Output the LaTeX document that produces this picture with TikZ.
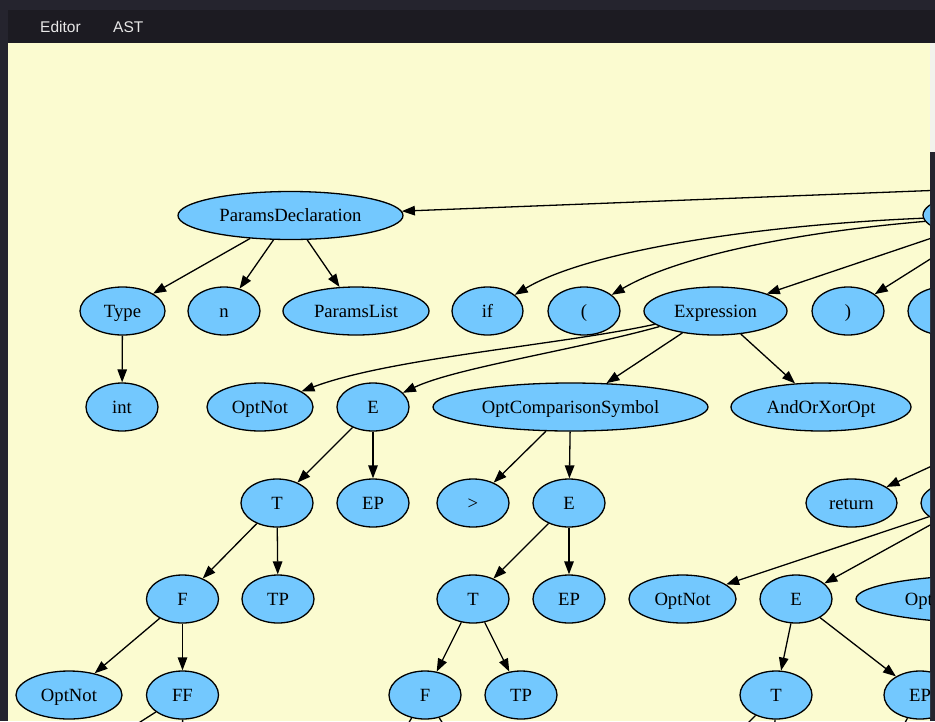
\documentclass[tikz,border=0pt]{standalone}
\usepackage{fontspec}
\setmainfont{Liberation Serif}
\newfontfamily\uifont{Liberation Sans}
\usetikzlibrary{shapes.geometric,arrows.meta}
\definecolor{outerbg}{RGB}{37,36,46}
\definecolor{tabbar}{RGB}{28,27,34}
\definecolor{canvasbg}{RGB}{251,251,208}
\definecolor{nodefill}{RGB}{115,200,254}
\definecolor{thumbcol}{RGB}{242,242,236}
\definecolor{tabtext}{RGB}{232,232,232}
\begin{document}
\begin{tikzpicture}[x=1pt,y=-1pt,
  astnode/.style={ellipse, draw=black, line width=1.3pt, fill=nodefill, inner sep=0pt,
    minimum height=48pt, minimum width=72pt, text height=16pt, text depth=3.4pt,
    font=\fontsize{18.67}{20}\selectfont},
  edge/.style={-{Triangle[length=13pt,width=9.5pt]}, line width=1.3pt},
  tablabel/.style={text=tabtext, font=\uifont\fontsize{15.5}{18}\selectfont, inner sep=0pt, anchor=base west}]
\useasboundingbox (0,0) rectangle (935,721);
% window chrome
\fill[outerbg] (0,0) rectangle (935,721);
\fill[tabbar] (8,10) rectangle (935,43);
\fill[canvasbg] (8,43) rectangle (930,721);
\fill[outerbg] (930,43) rectangle (935,721);
\fill[thumbcol] (930,43) rectangle (935,152);
\node[tablabel] (tabeditor) at (40,32) {Editor};
\node[tablabel] (tabast) at (113,32) {AST};
\begin{scope}
\clip (8,43) rectangle (930,721);
% off-canvas anchors
\coordinate (pdpar) at (1200,180);
\coordinate (par407) at (1060,407);
% row 215
\node[astnode, minimum width=225pt] (pd) at (290.5,215.5) {ParamsDeclaration};
\node[astnode, minimum width=154pt] (root) at (1000,215) {};
% row 311
\node[astnode, minimum width=85pt] (type) at (122.5,311) {Type};
\node[astnode] (n) at (224,311) {n};
\node[astnode, minimum width=146pt] (plist) at (356,311) {ParamsList};
\node[astnode, minimum width=71pt] (if) at (487.5,311) {if};
\node[astnode] (lp) at (584,311) {(};
\node[astnode, minimum width=143pt] (expr) at (715.5,311) {Expression};
\node[astnode] (rp) at (848,311) {)};
\node[astnode] (rb) at (944,311) {};
% row 407
\node[astnode] (int) at (122,407) {int};
\node[astnode, minimum width=106pt] (onA) at (260,407) {OptNot};
\node[astnode] (eA) at (373,407) {E};
\node[astnode, minimum width=275pt] (ocsA) at (570.5,407) {OptComparisonSymbol};
\node[astnode, minimum width=180pt] (aox) at (821,407) {AndOrXorOpt};
% row 503
\node[astnode] (tA) at (277,503) {T};
\node[astnode] (epA) at (373,503) {EP};
\node[astnode] (gt) at (473,503) {>};
\node[astnode] (eB) at (569,503) {E};
\node[astnode, minimum width=91pt] (ret) at (851.5,503) {return};
\node[astnode, minimum width=98pt] (rr) at (970,503) {};
% row 599
\node[astnode] (fA) at (182.5,599) {F};
\node[astnode] (tpA) at (278,599) {TP};
\node[astnode] (tB) at (473,599) {T};
\node[astnode] (epB) at (569,599) {EP};
\node[astnode, minimum width=107pt] (onB) at (682.5,599) {OptNot};
\node[astnode] (eC) at (796,599) {E};
\node[astnode, minimum width=275pt] (ocsB) at (993.5,599) {OptComparisonSymbol};
% row 695
\node[astnode, minimum width=106pt] (onC) at (69,695) {OptNot};
\node[astnode] (ff) at (182.5,695) {FF};
\node[astnode] (fB) at (425,695) {F};
\node[astnode] (tpB) at (521,695) {TP};
\node[astnode] (tC) at (776,695) {T};
\node[astnode] (epC) at (920,695) {EP};
% children below the view
\coordinate (ffc1) at (32,791);
\coordinate (ffc2) at (183,791);
\coordinate (fBc1) at (369,791);
\coordinate (fBc2) at (485,791);
\coordinate (tCc1) at (680,791);
\coordinate (tCc2) at (772,791);
\coordinate (epCc1) at (868,791);
% edges
\draw[edge] (pdpar) -- (pd);
\draw[edge] (pd) -- (type);
\draw[edge] (pd) -- (n);
\draw[edge] (pd) -- (plist);
\draw[edge] (type) -- (int);
\draw[edge] (root) .. controls (760,225) and (590,250) .. (if);
\draw[edge] (root) .. controls (800,232) and (680,255) .. (lp);
\draw[edge] (root) -- (expr);
\draw[edge] (root) -- (rp);
\draw[edge] (root) -- (rb);
\draw[edge] (expr) .. controls (560,345) and (390,358) .. (onA);
\draw[edge] (expr) .. controls (575,350) and (455,368) .. (eA);
\draw[edge] (expr) -- (ocsA);
\draw[edge] (expr) -- (aox);
\draw[edge] (eA) -- (tA);
\draw[edge] (eA) -- (epA);
\draw[edge] (ocsA) -- (gt);
\draw[edge] (ocsA) -- (eB);
\draw[edge] (tA) -- (fA);
\draw[edge] (tA) -- (tpA);
\draw[edge] (eB) -- (tB);
\draw[edge] (eB) -- (epB);
\draw[edge] (par407) -- (ret);
\draw[edge] (par407) -- (rr);
\draw[edge] (rr) -- (onB);
\draw[edge] (rr) -- (eC);
\draw[edge] (rr) -- (ocsB);
\draw[edge] (fA) -- (onC);
\draw[edge] (fA) -- (ff);
\draw[edge] (tB) -- (fB);
\draw[edge] (tB) -- (tpB);
\draw[edge] (eC) -- (tC);
\draw[edge] (eC) -- (epC);
\draw[edge] (ff) -- (ffc1);
\draw[edge] (ff) -- (ffc2);
\draw[edge] (fB) -- (fBc1);
\draw[edge] (fB) -- (fBc2);
\draw[edge] (tC) -- (tCc1);
\draw[edge] (tC) -- (tCc2);
\draw[edge] (epC) -- (epCc1);
\end{scope}
\end{tikzpicture}
\end{document}
